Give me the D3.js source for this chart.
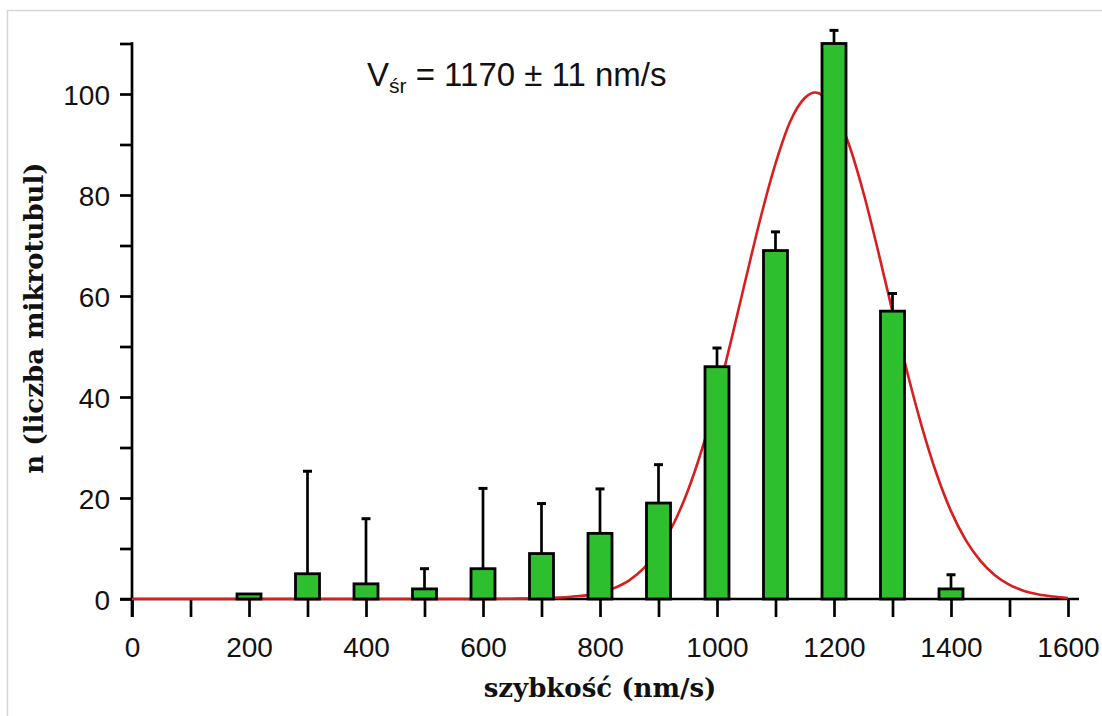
<!DOCTYPE html>
<html>
<head>
<meta charset="utf-8">
<script src="https://cdn.jsdelivr.net/npm/d3@7"></script>
<style>
  html, body { margin: 0; padding: 0; background: #fff; }
  svg { display: block; }
</style>
</head>
<body>
<svg id="chart" width="1102" height="716"></svg>
<script>
// ---- data ----
const speeds = [200, 300, 400, 500, 600, 700, 800, 900, 1000, 1100, 1200, 1300, 1400];
const counts = [1, 5, 3, 2, 6, 9, 13, 19, 46, 69, 110, 57, 2];
const errorTops = [null, 25.3, 15.9, 6, 21.9, 18.9, 21.8, 26.6, 49.7, 72.7, 112.6, 60.5, 4.8];

// fitted curve (speed, count)
const curveX = [0, 100, 200, 300, 400, 500, 600, 650, 700, 750, 800, 825, 850, 875, 900, 925, 950, 975,
  1000, 1025, 1050, 1075, 1100, 1125, 1150, 1168, 1175, 1200, 1225, 1250, 1275, 1300, 1325, 1350,
  1375, 1400, 1425, 1450, 1475, 1500, 1525, 1550, 1575, 1600];
const curveY = [0, 0, 0, 0, 0, 0, 0, 0.05, 0.15, 0.45, 1.2, 2.2, 3.7, 6.1, 9.7, 14.7, 21.4, 29.9,
  40, 51.6, 63.8, 75.7, 86.2, 94.5, 99.2, 100.3, 100.1, 97, 90.2, 80.6, 69.1, 56.9, 45, 34.2,
  24.9, 17.4, 11.7, 7.6, 4.7, 2.8, 1.6, 0.9, 0.5, 0.2];

const xTicks = [0, 100, 200, 300, 400, 500, 600, 700, 800, 900, 1000, 1100, 1200, 1300, 1400, 1500, 1600];
const xTickLabels = ["0", "", "200", "", "400", "", "600", "", "800", "", "1000", "", "1200", "", "1400", "", "1600"];
const yTicks = [0, 10, 20, 30, 40, 50, 60, 70, 80, 90, 100, 110];
const yTickLabels = ["0", "", "20", "", "40", "", "60", "", "80", "", "100", ""];

const xTitle = "szybkość (nm/s)";
const yTitle = "n (liczba mikrotubul)";
const annotMain = "V";
const annotSub = "śr";
const annotRest = " = 1170 ± 11 nm/s";

// ---- layout ----
const svg = d3.select("#chart");
const x = d3.scaleLinear().domain([0, 1600]).range([132, 1068]);
const y = d3.scaleLinear().domain([0, 110]).range([599, 43.5]);
const barW = 24;

// frame lines (light border of the original image)
svg.append("line").attr("x1", 7).attr("x2", 1102).attr("y1", 10.5).attr("y2", 10.5)
  .attr("stroke", "#d6d6d6").attr("stroke-width", 1.5);
svg.append("line").attr("x1", 7.5).attr("x2", 7.5).attr("y1", 10).attr("y2", 716)
  .attr("stroke", "#d6d6d6").attr("stroke-width", 1.5);

const axisFont = "'Liberation Sans', Arial, sans-serif";

// x axis
const xAxis = d3.axisBottom(x).tickValues(xTicks).tickSize(18).tickSizeOuter(0)
  .tickFormat((d, i) => xTickLabels[i]);
const gx = svg.append("g").attr("transform", `translate(0,${y(0)})`).call(xAxis);
gx.select(".domain").remove();
gx.selectAll(".tick line").attr("stroke", "#000").attr("stroke-width", 2.7);
gx.selectAll(".tick text").attr("font-family", axisFont).attr("font-size", 28)
  .attr("fill", "#111").attr("dy", 0).attr("y", 58);
svg.append("line").attr("x1", 120).attr("x2", 1079).attr("y1", y(0)).attr("y2", y(0))
  .attr("stroke", "#000").attr("stroke-width", 2.7);

// y axis
const yAxis = d3.axisLeft(y).tickValues(yTicks).tickSize(12).tickSizeOuter(0)
  .tickFormat((d, i) => yTickLabels[i]);
const gy = svg.append("g").attr("transform", `translate(${x(0)},0)`).call(yAxis);
gy.select(".domain").remove();
gy.selectAll(".tick line").attr("stroke", "#000").attr("stroke-width", 2.7);
gy.selectAll(".tick text").attr("font-family", axisFont).attr("font-size", 28)
  .attr("fill", "#111").attr("x", -22).attr("dy", "0.36em");
svg.append("line").attr("x1", x(0)).attr("x2", x(0)).attr("y1", y(110) - 1.3).attr("y2", y(0) + 18)
  .attr("stroke", "#000").attr("stroke-width", 2.7);

// fitted curve
const pts = curveX.map((d, i) => [d, curveY[i]]);
svg.append("path").datum(pts)
  .attr("fill", "none").attr("stroke", "#d81e1e").attr("stroke-width", 2.6)
  .attr("d", d3.line().x(d => x(d[0])).y(d => y(d[1])).curve(d3.curveMonotoneX));

// error bars
const eb = svg.append("g");
speeds.forEach((s, i) => {
  if (errorTops[i] == null) return;
  eb.append("line").attr("x1", x(s)).attr("x2", x(s)).attr("y1", y(counts[i])).attr("y2", y(errorTops[i]))
    .attr("stroke", "#000").attr("stroke-width", 2.7);
  eb.append("line").attr("x1", x(s) - 4.5).attr("x2", x(s) + 4.5).attr("y1", y(errorTops[i])).attr("y2", y(errorTops[i]))
    .attr("stroke", "#000").attr("stroke-width", 3);
});

// bars
svg.append("g").selectAll("rect").data(speeds).join("rect")
  .attr("x", d => x(d) - barW / 2)
  .attr("y", (d, i) => y(counts[i]))
  .attr("width", barW)
  .attr("height", (d, i) => y(0) - y(counts[i]))
  .attr("fill", "#2dbf2d")
  .attr("stroke", "#000").attr("stroke-width", 2.8);

// annotation
const at = svg.append("text").attr("x", 367).attr("y", 86)
  .attr("font-family", axisFont).attr("font-size", 33).attr("fill", "#111");
at.append("tspan").text(annotMain);
at.append("tspan").attr("font-size", 21).attr("dy", 7).text(annotSub);
at.append("tspan").attr("dy", -7).text(annotRest);

// axis titles
const titleFont = "'DejaVu Serif', serif";
svg.append("text").attr("x", 600).attr("y", 697).attr("text-anchor", "middle")
  .attr("font-family", titleFont).attr("font-weight", "bold").attr("font-size", 26)
  .attr("fill", "#111").text(xTitle);
svg.append("text").attr("transform", "translate(43,318) rotate(-90)").attr("text-anchor", "middle")
  .attr("font-family", titleFont).attr("font-weight", "bold").attr("font-size", 26)
  .attr("fill", "#111").text(yTitle);
</script>
</body>
</html>
